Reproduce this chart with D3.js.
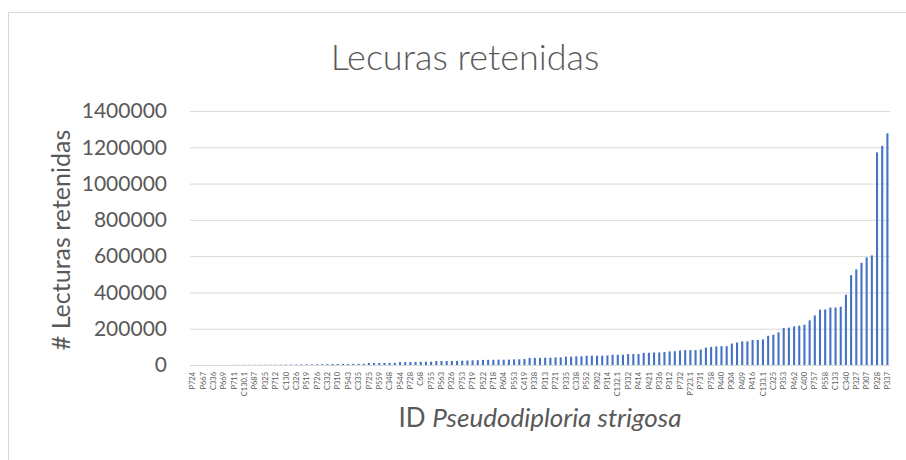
<!DOCTYPE html>
<html>
<head>
<meta charset="utf-8">
<script src="https://cdnjs.cloudflare.com/ajax/libs/d3/7.8.5/d3.min.js"></script>
<style>
  body { margin: 0; background: #fff; }
  text { font-family: Lato, "Open Sans", sans-serif; fill: #595959; }
</style>
</head>
<body>
<div id="chart"></div>
<script>
// labels shown under every other bar
const tickLabels = ["P724", "P667", "C336", "P669", "P711", "C130.1", "P687", "P325", "P712", "C130",
    "C326", "P519", "P726", "C332", "P310", "P543", "C335", "P725", "P559", "C348",
    "P544", "P728", "C68", "P755", "P563", "P326", "P753", "P719", "P522", "P718",
    "P604", "P553", "C419", "P338", "P313", "P721", "P335", "C338", "P552", "P302",
    "P314", "C132.1", "P332", "P414", "P421", "P336", "P312", "P732", "P723.1", "P731",
    "P758", "P440", "P304", "P409", "P416", "C133.1", "C325", "P353", "P462", "C400",
    "P757", "P558", "C133", "C340", "P327", "P307", "P328", "P337"];

// lecturas retenidas per sample, sorted
const values = [150, 200, 250, 300, 350, 400, 480, 600, 750, 900,
    1000, 1100, 1200, 1400, 1500, 1700, 1800, 2000, 2200, 2400,
    2600, 2900, 3100, 3400, 3700, 4200, 4800,
    5500, 5500, 5600, 5700, 6000, 6200, 7000, 11000, 11000, 11200,
    11400, 12000, 12200, 16000, 16000, 16200, 16500, 18000, 18200, 18500,
    22000, 22000, 22200, 22400, 22600, 24000, 24500,
    26000, 26200, 28000, 28200, 29000, 29200, 29400, 29600, 31000, 31200,
    33000, 39000, 39200, 39400, 40000, 40200, 42000, 42200, 46000, 46200,
    48000, 48200, 51000, 51200, 51400, 51600, 53000,
    56000, 56200, 56400, 60000, 60200, 60400, 67000, 67200, 69000, 69200,
    71000, 75000, 76000, 80000, 82000, 82200, 82400, 85000, 96000, 100000,
    102000, 104000, 104200, 118000, 124000,
    130000, 130500, 138000, 138500, 141000, 161000, 167000, 180000, 204000, 206000,
    213000, 217000, 222000, 246000, 273000, 305000, 306000, 316000, 317000, 321000,
    387000, 495000, 527000, 563000, 593000, 604000, 1172000, 1208000, 1277000];

const yTicks = [0, 200000, 400000, 600000, 800000, 1000000, 1200000, 1400000];

const width = 906;
const height = 460;
const plotLeft = 190, plotRight = 890, plotTop = 111, plotBottom = 365;

let svg = d3.select("#chart")
    .append("svg")
    .attr("width", width)
    .attr("height", height);

// chart border
svg.append("rect")
    .attr("x", 8.5)
    .attr("y", 12.5)
    .attr("width", 920)
    .attr("height", 470)
    .attr("fill", "none")
    .attr("stroke", "#d9d9d9");

const x = d3.scaleBand()
    .domain(d3.range(values.length))
    .range([plotLeft, plotRight])
    .paddingInner(0.6)
    .paddingOuter(0.3);

const y = d3.scaleLinear()
    .domain([0, 1400000])
    .range([plotBottom, plotTop]);

// gridlines + y labels
let yAxis = svg.append("g")
    .attr("transform", "translate(" + plotLeft + ",0)")
    .call(d3.axisLeft(y).tickValues(yTicks).tickSize(-(plotRight - plotLeft)).tickPadding(23).tickFormat(d3.format("d")));
yAxis.select(".domain").remove();
yAxis.selectAll("line").attr("stroke", "#d9d9d9");
yAxis.selectAll("text")
    .style("font-size", "21px")
    .attr("fill", "#595959");

// bars
svg.selectAll("rect.bar")
    .data(values)
    .enter()
    .append("rect")
    .attr("class", "bar")
    .attr("x", function(d, i) {return x(i);})
    .attr("y", function(d) {return y(d);})
    .attr("width", x.bandwidth())
    .attr("height", function(d) {return plotBottom - y(d);})
    .attr("fill", "#4472c4");

// x labels
let xAxis = svg.append("g")
    .attr("transform", "translate(0," + plotBottom + ")")
    .call(d3.axisBottom(x)
        .tickValues(d3.range(0, values.length, 2))
        .tickSize(0)
        .tickFormat(function(i) {return tickLabels[i / 2];}));
xAxis.select(".domain").remove();
xAxis.selectAll("text")
    .attr("transform", "rotate(-90)")
    .attr("x", -7)
    .attr("y", 0)
    .attr("dy", "0.35em")
    .style("text-anchor", "end")
    .style("font-size", "7.5px")
    .attr("fill", "#595959");

// titles
svg.append("text")
    .attr("x", 465)
    .attr("y", 70)
    .attr("text-anchor", "middle")
    .style("font-size", "36px")
    .style("font-weight", 300)
    .text("Lecuras retenidas");

svg.append("text")
    .attr("transform", "translate(70,240) rotate(-90)")
    .attr("text-anchor", "middle")
    .style("font-size", "25px")
    .text("# Lecturas retenidas");

let xt = svg.append("text")
    .attr("x", (plotLeft + plotRight) / 2)
    .attr("y", 427)
    .attr("text-anchor", "middle")
    .style("font-size", "26px");
xt.append("tspan").text("ID ");
xt.append("tspan").style("font-style", "italic").text("Pseudodiploria strigosa");
</script>
</body>
</html>
